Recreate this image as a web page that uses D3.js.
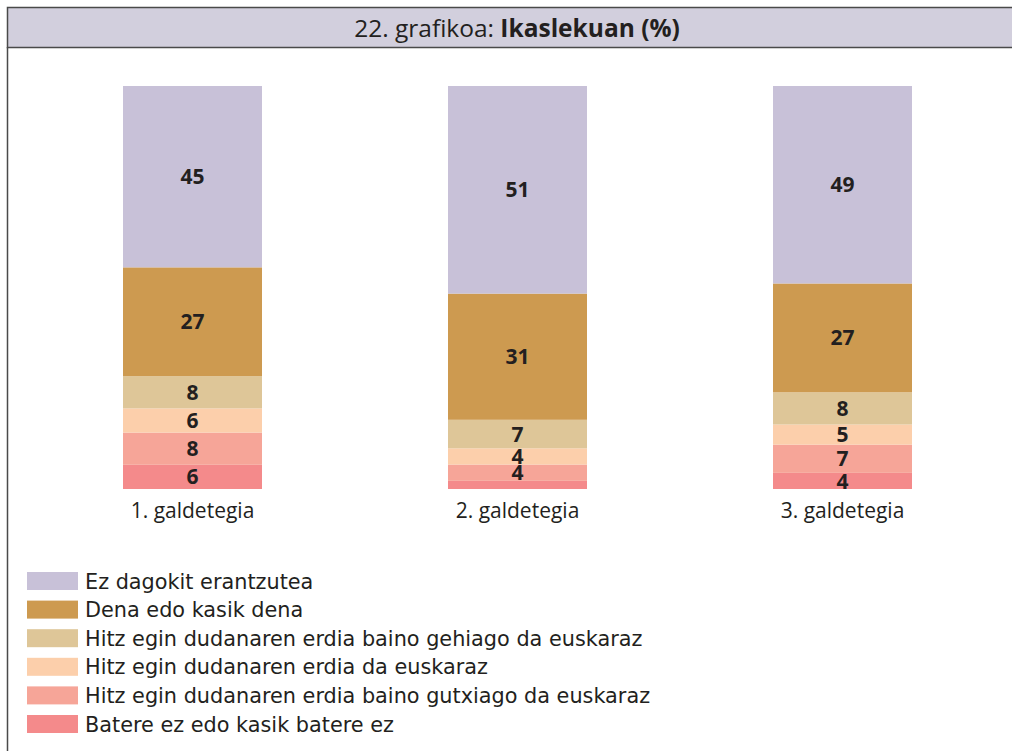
<!DOCTYPE html>
<html>
<head>
<meta charset="utf-8">
<script src="https://cdn.jsdelivr.net/npm/d3@7"></script>
<style>
  body { margin: 0; background: #fff; }
  svg { display: block; font-family: "Open Sans", sans-serif; }
</style>
</head>
<body>
<svg id="chart"></svg>
<script>
// data
var categories = ["1. galdetegia", "2. galdetegia", "3. galdetegia"];
var seriesNames = [
  "Batere ez edo kasik batere ez",
  "Hitz egin dudanaren erdia baino gutxiago da euskaraz",
  "Hitz egin dudanaren erdia da euskaraz",
  "Hitz egin dudanaren erdia baino gehiago da euskaraz",
  "Dena edo kasik dena",
  "Ez dagokit erantzutea"
];
var bateree = [6, 2, 4];
var gutxiago = [8, 4, 7];
var erdia = [6, 4, 5];
var gehiago = [8, 7, 8];
var dena = [27, 31, 27];
var ezDagokit = [45, 51, 49];
var colors = ["#f48a8b", "#f6a598", "#fccfab", "#dec698", "#cd9a50", "#c8c1d8"];

var W = 1012, H = 751;
var svg = d3.select("#chart").attr("width", W).attr("height", H);

// frame + title bar
svg.append("rect")
  .attr("x", 7.5).attr("y", 7.5)
  .attr("width", W + 20).attr("height", 40)
  .attr("fill", "#d2cfdd").attr("stroke", "#4a4a4a").attr("stroke-width", 1.5);
svg.append("line")
  .attr("x1", 7.5).attr("x2", 7.5).attr("y1", 47).attr("y2", H + 5)
  .attr("stroke", "#4a4a4a").attr("stroke-width", 1.5);

var title = svg.append("text")
  .attr("x", 517).attr("y", 37)
  .attr("text-anchor", "middle")
  .attr("font-size", 24.5)
  .attr("fill", "#231f20");
title.append("tspan").text("22. grafikoa: ");
title.append("tspan").attr("font-weight", "bold").text("Ikaslekuan (%)");

// build rows for stack
var keys = d3.range(seriesNames.length);
var columns = [bateree, gutxiago, erdia, gehiago, dena, ezDagokit];
var rows = categories.map(function (c, i) {
  var r = { cat: c };
  columns.forEach(function (col, k) { r[k] = col[i]; });
  return r;
});

var stacked = d3.stack().keys(keys).offset(d3.stackOffsetExpand)(rows);

var x = d3.scaleBand().domain(categories).range([123, 912]).paddingInner(0.5723).paddingOuter(0);
var y = d3.scaleLinear().domain([0, 1]).range([489, 86]);

var g = svg.append("g");
var layers = g.selectAll("g.layer")
  .data(stacked)
  .enter().append("g")
  .attr("fill", function (d, i) { return colors[i]; });

layers.selectAll("rect")
  .data(function (d) { return d; })
  .enter().append("rect")
  .attr("x", function (d) { return x(d.data.cat); })
  .attr("width", x.bandwidth())
  .attr("y", function (d) { return y(d[1]); })
  .attr("height", function (d) { return y(d[0]) - y(d[1]); });

// value labels
stacked.forEach(function (layer, k) {
  g.selectAll(null)
    .data(layer.filter(function (d) { return d.data[k] >= 3; }))
    .enter().append("text")
    .attr("x", function (d) { return x(d.data.cat) + x.bandwidth() / 2; })
    .attr("y", function (d) { return (y(d[0]) + y(d[1])) / 2; })
    .attr("dy", "0.36em")
    .attr("text-anchor", "middle")
    .attr("font-size", 21)
    .attr("font-weight", "bold")
    .attr("fill", "#231f20")
    .text(function (d) { return d.data[k]; });
});

// category axis
var axis = svg.append("g")
  .attr("transform", "translate(0,489)")
  .call(d3.axisBottom(x).tickSize(0).tickPadding(10));
axis.select(".domain").remove();
axis.selectAll("text")
  .attr("font-family", "Open Sans, sans-serif")
  .attr("font-size", 21)
  .attr("fill", "#231f20")
  .attr("dy", "0.9em");

// legend (top to bottom reversed order)
var legendItems = seriesNames.map(function (n, i) { return { name: n, color: colors[i] }; }).reverse();
var legend = svg.append("g").selectAll("g")
  .data(legendItems)
  .enter().append("g")
  .attr("transform", function (d, i) { return "translate(27," + (572 + i * 28.6) + ")"; });
legend.append("rect")
  .attr("width", 51).attr("height", 18)
  .attr("fill", function (d) { return d.color; });
legend.append("text")
  .attr("x", 58).attr("y", 9).attr("dy", "0.36em")
  .attr("font-family", "DejaVu Sans, sans-serif")
  .attr("font-size", 20.8)
  .attr("fill", "#231f20")
  .text(function (d) { return d.name; });
</script>
</body>
</html>
